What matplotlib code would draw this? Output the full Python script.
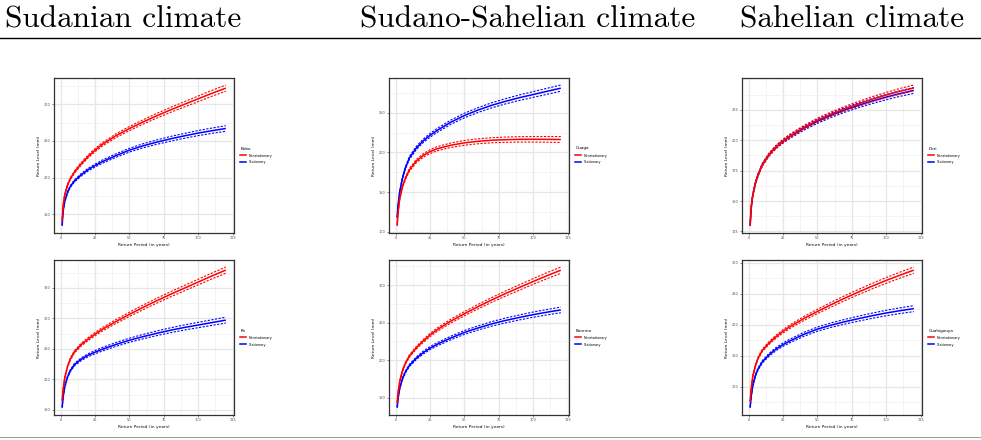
import matplotlib
matplotlib.use("Agg")
import matplotlib.pyplot as plt
from matplotlib.lines import Line2D
from matplotlib.ticker import MultipleLocator
import numpy as np

# ---------------- data ----------------
return_period = [1.1, 1.5, 2, 3, 5, 7, 10, 15, 20, 25, 30, 40, 50, 60, 70, 80, 90, 100, 110, 120]

climate_headers = ["Sudanian climate", "Sudano-Sahelian climate", "Sahelian climate"]
series_labels = ["Nonstationary", "Stationary"]
x_ticks = [0, 25, 50, 75, 100, 125]

bobo_nonstat = [141, 155, 165, 177, 190, 198.5, 207.5, 219, 229, 237.5, 245, 257, 267, 276, 284.5, 292.5, 300, 307.5, 315, 322]
bobo_stat = [135, 148, 157, 168, 180, 188, 195.5, 204, 211, 216.5, 221.5, 230, 237.5, 243.5, 248.5, 253, 257, 260.8, 264, 267]
bobo_nonstat_ci = [0.8, 0.9, 1.0, 1.1, 1.3, 1.4, 1.6, 1.8, 2.0, 2.2, 2.3, 2.6, 2.8, 3.0, 3.2, 3.4, 3.6, 3.8, 4.0, 4.2]
bobo_stat_ci = [0.8, 0.9, 1.0, 1.1, 1.2, 1.3, 1.5, 1.7, 1.9, 2.0, 2.2, 2.4, 2.6, 2.8, 3.0, 3.2, 3.3, 3.5, 3.6, 3.8]
bobo_yticks = [150, 200, 250, 300]

ouaga_nonstat = [108, 119, 128, 142, 157, 167, 178, 189, 196, 201, 204.5, 209, 212, 214, 215.3, 216, 216.4, 216.5, 216.4, 216.2]
ouaga_stat = [118, 129, 137, 151, 168, 180, 193, 205.5, 214.5, 221.5, 227.5, 238, 246.5, 253.5, 259.5, 264.5, 269, 273, 277, 281]
ouaga_nonstat_ci = [0.8, 0.9, 1.0, 1.2, 1.4, 1.6, 1.8, 2.0, 2.2, 2.4, 2.6, 2.8, 3.0, 3.1, 3.2, 3.3, 3.4, 3.5, 3.6, 3.7]
ouaga_stat_ci = [0.8, 0.9, 1.0, 1.2, 1.4, 1.6, 1.8, 2.0, 2.2, 2.4, 2.5, 2.7, 2.9, 3.0, 3.2, 3.3, 3.5, 3.6, 3.8, 3.9]
ouaga_yticks = [100, 150, 200, 250]

dori_nonstat = [130, 139, 146, 155, 165, 172, 180, 188.5, 194.5, 199.5, 203.5, 210.5, 216.5, 221.5, 226, 230, 233.8, 237.2, 240.3, 243]
dori_stat = [130, 139, 146, 155, 165, 172, 180, 188.5, 194.5, 199, 203, 209.8, 215.6, 220.6, 225, 228.8, 232.3, 235.5, 238.4, 241]
dori_nonstat_ci = [0.5, 0.6, 0.7, 0.8, 0.9, 1.0, 1.1, 1.2, 1.3, 1.4, 1.5, 1.6, 1.7, 1.8, 1.9, 2.0, 2.1, 2.2, 2.3, 2.4]
dori_stat_ci = [0.5, 0.6, 0.7, 0.8, 0.9, 1.0, 1.1, 1.2, 1.3, 1.4, 1.5, 1.6, 1.7, 1.8, 1.9, 2.0, 2.1, 2.2, 2.3, 2.4]
dori_yticks = [125, 150, 175, 200, 225]

po_nonstat = [165, 177, 187, 203, 221, 233, 245, 257, 266, 274, 281.5, 294.5, 306.5, 318, 329, 339.5, 349.5, 359.5, 369.5, 379]
po_stat = [154, 165, 174, 188, 204, 214, 224, 233, 239.5, 244.5, 249, 257, 264, 270, 275.5, 280.5, 285, 289, 293, 297]
po_nonstat_ci = [1.0, 1.1, 1.2, 1.4, 1.6, 1.8, 2.0, 2.3, 2.5, 2.7, 2.9, 3.2, 3.5, 3.8, 4.0, 4.2, 4.4, 4.6, 4.8, 5.0]
po_stat_ci = [1.0, 1.1, 1.2, 1.4, 1.6, 1.8, 2.0, 2.3, 2.5, 2.7, 2.9, 3.2, 3.4, 3.6, 3.8, 4.0, 4.2, 4.4, 4.6, 4.8]
po_yticks = [150, 200, 250, 300, 350]

boromo_nonstat = [143, 152, 160, 172, 186, 195.5, 205.5, 216.5, 225.5, 233.5, 240.5, 252, 262, 271.5, 280.5, 289, 297, 305, 312.7, 320]
boromo_stat = [137, 145, 152, 163, 175.5, 184, 193, 202.5, 210, 216, 221, 229.5, 237, 243, 248.5, 253, 257, 260.7, 264, 267]
boromo_nonstat_ci = [0.8, 0.9, 1.0, 1.1, 1.3, 1.4, 1.6, 1.8, 2.0, 2.2, 2.3, 2.6, 2.8, 3.0, 3.2, 3.4, 3.6, 3.8, 4.0, 4.2]
boromo_stat_ci = [0.8, 0.9, 1.0, 1.1, 1.2, 1.3, 1.5, 1.7, 1.9, 2.0, 2.2, 2.4, 2.6, 2.8, 3.0, 3.2, 3.3, 3.5, 3.6, 3.8]
boromo_yticks = [150, 200, 250, 300]

ouahi_nonstat = [76, 89, 100, 117, 135, 147, 159, 171, 181, 189.5, 197, 210, 221.5, 232.5, 243, 253, 262.5, 271.5, 280, 288]
ouahi_stat = [67, 78, 87, 102, 119, 129.5, 140.5, 152, 161, 168, 174, 184.5, 193, 199.5, 205, 210, 214.7, 219, 222.7, 226]
ouahi_nonstat_ci = [1.0, 1.1, 1.2, 1.4, 1.6, 1.8, 2.0, 2.3, 2.5, 2.7, 2.9, 3.2, 3.5, 3.8, 4.0, 4.2, 4.4, 4.6, 4.8, 5.0]
ouahi_stat_ci = [1.0, 1.1, 1.2, 1.4, 1.6, 1.8, 2.0, 2.3, 2.5, 2.7, 2.9, 3.2, 3.4, 3.6, 3.8, 4.0, 4.2, 4.4, 4.6, 4.8]
ouahi_yticks = [100, 150, 200, 250, 300]

panels = [
    ("Bobo", bobo_nonstat, bobo_nonstat_ci, bobo_stat, bobo_stat_ci, bobo_yticks),
    ("Ouaga", ouaga_nonstat, ouaga_nonstat_ci, ouaga_stat, ouaga_stat_ci, ouaga_yticks),
    ("Dori", dori_nonstat, dori_nonstat_ci, dori_stat, dori_stat_ci, dori_yticks),
    ("Po", po_nonstat, po_nonstat_ci, po_stat, po_stat_ci, po_yticks),
    ("Boromo", boromo_nonstat, boromo_nonstat_ci, boromo_stat, boromo_stat_ci, boromo_yticks),
    ("Ouahigouya", ouahi_nonstat, ouahi_nonstat_ci, ouahi_stat, ouahi_stat_ci, ouahi_yticks),
]

# ---------------- layout ----------------
W, H = 981, 440
fig = plt.figure(figsize=(W / 100, H / 100), dpi=100)
fig.patch.set_facecolor("white")

col_left = [54, 389, 742]
row_top = [78, 260]
ax_w, ax_h = 180, 155

RED = "#ff0000"
BLUE = "#0000ff"

for i, (name, ns, ns_ci, st, st_ci, yt) in enumerate(panels):
    r, c = divmod(i, 3)
    left = col_left[c] / W
    bottom = 1 - (row_top[r] + ax_h) / H
    ax = fig.add_axes([left, bottom, ax_w / W, ax_h / H])
    T = np.array(return_period)
    for vals, ci, col in ((st, st_ci, BLUE), (ns, ns_ci, RED)):
        v = np.array(vals, dtype=float)
        e = np.array(ci, dtype=float)
        ax.plot(T, v, color=col, lw=1.1, solid_capstyle="butt", zorder=3)
        ax.plot(T, v + e, color=col, lw=0.8, ls=(0, (2.0, 1.3)), zorder=3)
        ax.plot(T, v - e, color=col, lw=0.8, ls=(0, (2.0, 1.3)), zorder=3)
    ax.margins(x=0.05, y=0.05)
    ax.set_xticks(x_ticks)
    ax.set_yticks(yt)
    step = yt[1] - yt[0]
    ax.xaxis.set_minor_locator(MultipleLocator(12.5))
    ax.yaxis.set_minor_locator(MultipleLocator(step / 2))
    ax.grid(which="major", color="#e6e6e6", lw=0.9, zorder=0)
    ax.grid(which="minor", color="#f0f0f0", lw=0.5, zorder=0)
    ax.set_axisbelow(True)
    for sp in ax.spines.values():
        sp.set_color("#333333")
        sp.set_linewidth(0.9)
    ax.tick_params(which="major", length=1.5, width=0.4, color="#333333",
                   labelsize=2.5, labelcolor="#4d4d4d", pad=1)
    ax.tick_params(which="minor", length=0)
    ax.set_xlabel("Return Period (in years)", fontsize=3.2, labelpad=1.5, color="#111111")
    ax.set_ylabel("Return Level (mm)", fontsize=3.2, labelpad=2.0, color="#111111")
    handles = [Line2D([0], [0], color=RED, lw=1.1), Line2D([0], [0], color=BLUE, lw=1.1)]
    leg = ax.legend(handles, series_labels, title=name, loc="center left",
                    bbox_to_anchor=(1.035, 0.5), frameon=False, fontsize=2.4,
                    title_fontsize=3.0, handlelength=1.8, handletextpad=0.8,
                    labelspacing=0.9, borderaxespad=0.0, borderpad=0.0)
    leg._legend_box.align = "left"

# ---------------- headers and rules ----------------
header_x = [5, 360, 740]
for hx, txt in zip(header_x, climate_headers):
    fig.text(hx / W, 1 - 27 / H, txt, fontsize=22.5, family="cmr10",
             ha="left", va="baseline", color="black")

fig.add_artist(Line2D([0, 1], [1 - 38 / H, 1 - 38 / H], transform=fig.transFigure,
                      color="black", lw=1.0))
fig.add_artist(Line2D([0, 1], [1 - 437 / H, 1 - 437 / H], transform=fig.transFigure,
                      color="#888888", lw=0.6))

fig.savefig("out.png", dpi=100, facecolor="white")
